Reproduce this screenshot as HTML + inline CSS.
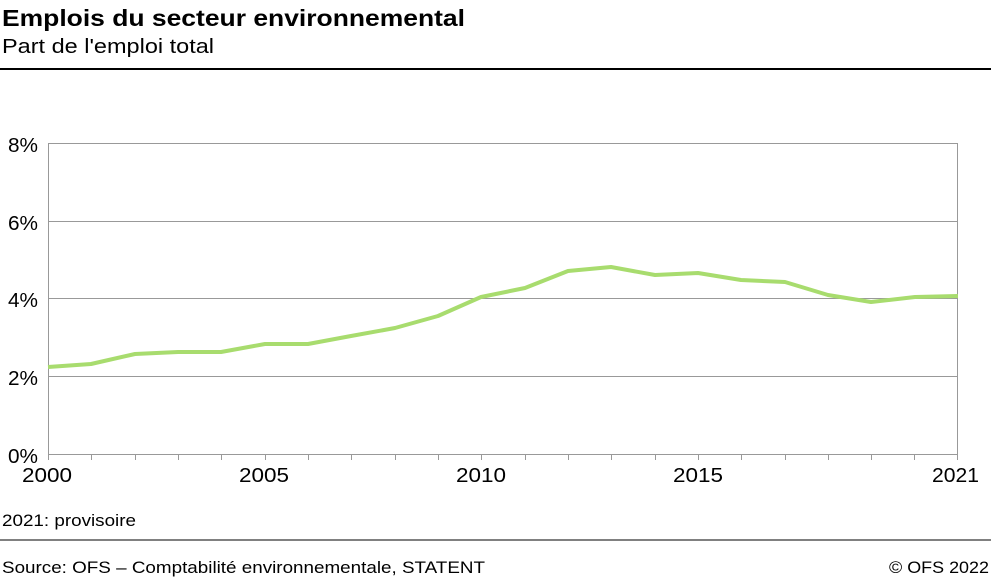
<!DOCTYPE html>
<html><head><meta charset="utf-8"><style>
body{margin:0;background:#fff;width:991px;height:580px;overflow:hidden;font-family:"Liberation Sans",sans-serif;}
</style></head><body>
<svg width="991" height="580" xmlns="http://www.w3.org/2000/svg" font-family="Liberation Sans, sans-serif">
<text x="2" y="26" font-size="23" font-weight="bold" fill="#000" textLength="463" lengthAdjust="spacingAndGlyphs">Emplois du secteur environnemental</text>
<text x="2" y="53" font-size="20" fill="#000" textLength="212" lengthAdjust="spacingAndGlyphs">Part de l'emploi total</text>
<line x1="0" y1="69" x2="991" y2="69" stroke="#000" stroke-width="2"/>
<g stroke="#999" stroke-width="1">
<line x1="48" y1="143.5" x2="958" y2="143.5"/>
<line x1="48" y1="221.5" x2="958" y2="221.5"/>
<line x1="48" y1="298.5" x2="958" y2="298.5"/>
<line x1="48" y1="376.5" x2="958" y2="376.5"/>
<line x1="48.5" y1="143" x2="48.5" y2="460"/>
<line x1="957.5" y1="143" x2="957.5" y2="460"/>
<line x1="48" y1="454.5" x2="958" y2="454.5"/>
<line x1="91.5" y1="454" x2="91.5" y2="460"/><line x1="135.5" y1="454" x2="135.5" y2="460"/><line x1="178.5" y1="454" x2="178.5" y2="460"/><line x1="221.5" y1="454" x2="221.5" y2="460"/><line x1="265.5" y1="454" x2="265.5" y2="460"/><line x1="308.5" y1="454" x2="308.5" y2="460"/><line x1="351.5" y1="454" x2="351.5" y2="460"/><line x1="395.5" y1="454" x2="395.5" y2="460"/><line x1="438.5" y1="454" x2="438.5" y2="460"/><line x1="481.5" y1="454" x2="481.5" y2="460"/><line x1="525.5" y1="454" x2="525.5" y2="460"/><line x1="568.5" y1="454" x2="568.5" y2="460"/><line x1="611.5" y1="454" x2="611.5" y2="460"/><line x1="655.5" y1="454" x2="655.5" y2="460"/><line x1="698.5" y1="454" x2="698.5" y2="460"/><line x1="741.5" y1="454" x2="741.5" y2="460"/><line x1="785.5" y1="454" x2="785.5" y2="460"/><line x1="828.5" y1="454" x2="828.5" y2="460"/><line x1="871.5" y1="454" x2="871.5" y2="460"/><line x1="914.5" y1="454" x2="914.5" y2="460"/>
</g>
<g font-size="20" fill="#000" text-anchor="end">
<text x="38" y="152" textLength="30" lengthAdjust="spacingAndGlyphs">8%</text><text x="38" y="230" textLength="30" lengthAdjust="spacingAndGlyphs">6%</text><text x="38" y="307" textLength="30" lengthAdjust="spacingAndGlyphs">4%</text><text x="38" y="385" textLength="30" lengthAdjust="spacingAndGlyphs">2%</text><text x="38" y="463" textLength="30" lengthAdjust="spacingAndGlyphs">0%</text>
</g>
<g font-size="20" fill="#000">
<text x="22" y="482" textLength="50" lengthAdjust="spacingAndGlyphs">2000</text>
<text x="239" y="482" textLength="50" lengthAdjust="spacingAndGlyphs">2005</text>
<text x="456" y="482" textLength="50" lengthAdjust="spacingAndGlyphs">2010</text>
<text x="673" y="482" textLength="50" lengthAdjust="spacingAndGlyphs">2015</text>
<text x="932" y="482" textLength="47" lengthAdjust="spacingAndGlyphs">2021</text>
</g>
<polyline fill="none" stroke="#a8dc6e" stroke-width="4" stroke-linejoin="round" points="48,367 91,364 135,354 178,352 221,352 265,344 308,344 351,336 395,328 438,316 481,297 525,288 568,271 611,267 655,275 698,273 741,280 785,282 828,295 871,302 915,297 958,296"/>
<text x="2" y="526" font-size="17" fill="#000" textLength="134" lengthAdjust="spacingAndGlyphs">2021: provisoire</text>
<line x1="0" y1="540" x2="991" y2="540" stroke="#000" stroke-width="1"/>
<text x="2" y="573" font-size="17" fill="#000" textLength="483" lengthAdjust="spacingAndGlyphs">Source: OFS – Comptabilité environnementale, STATENT</text>
<text x="989" y="573" font-size="17" fill="#000" text-anchor="end" textLength="100" lengthAdjust="spacingAndGlyphs">© OFS 2022</text>
</svg>
</body></html>
